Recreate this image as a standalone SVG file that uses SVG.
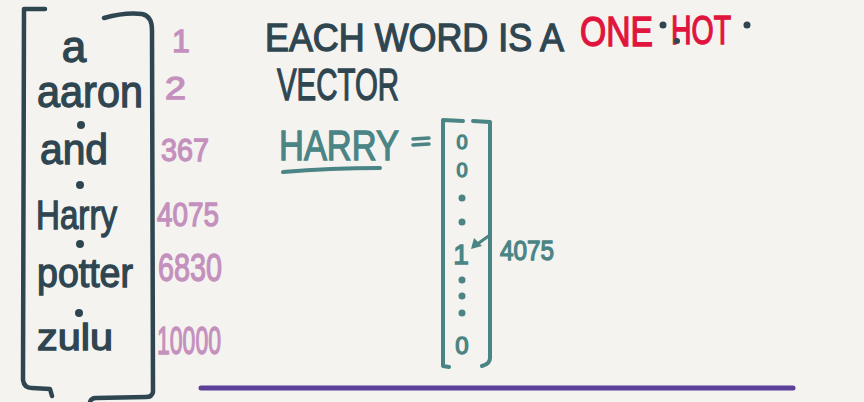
<svg xmlns="http://www.w3.org/2000/svg" width="864" height="402" viewBox="0 0 864 402">
<style>
.dk{fill:#2f4651;stroke:#2f4651;stroke-width:1.3;font-family:"Liberation Sans",Arial,sans-serif}
.pk{fill:#c490bd;stroke:#c490bd;stroke-width:1.3;font-family:"Liberation Sans",Arial,sans-serif}
.rd{fill:#e0143c;stroke:#e0143c;stroke-width:1.4;font-family:"Liberation Sans",Arial,sans-serif}
.tl{fill:#4a8484;stroke:#4a8484;stroke-width:1.3;font-family:"Liberation Sans",Arial,sans-serif}
.br{fill:none;stroke-linecap:round;stroke-linejoin:round}
</style>
<rect width="864" height="402" fill="#f4f3f0"/>
<g id="vocab">
<path class="br" stroke="#2f4651" stroke-width="4.5" d="M45,9 L24,9 L23,380 Q24,388 32,388 L50,389 L52,396"/>
<path class="br" stroke="#2f4651" stroke-width="4.5" d="M104,18 Q125,12 142,14 Q152,16 152,30 L153,392 Q152,397 146,397 L96,398 Q91,398 90,402"/>
<text class="dk" x="74" y="62" font-size="44" text-anchor="middle">a</text>
<text class="dk" x="37" y="107" font-size="44" textLength="106" lengthAdjust="spacingAndGlyphs">aaron</text>
<circle cx="81" cy="125" r="4" fill="#2f4651"/>
<text class="dk" x="40" y="164" font-size="42" textLength="68" lengthAdjust="spacingAndGlyphs">and</text>
<circle cx="80" cy="185" r="4" fill="#2f4651"/>
<text class="dk" x="36" y="229" font-size="40" textLength="81" lengthAdjust="spacingAndGlyphs">Harry</text>
<circle cx="80" cy="244" r="4" fill="#2f4651"/>
<text class="dk" x="37" y="287" font-size="40" textLength="96" lengthAdjust="spacingAndGlyphs">potter</text>
<circle cx="79" cy="313" r="4" fill="#2f4651"/>
<text class="dk" x="37" y="350" font-size="36" textLength="76" lengthAdjust="spacingAndGlyphs">zulu</text>
</g>
<g id="indices">
<text class="pk" x="172" y="52" font-size="32">1</text>
<text class="pk" x="165" y="99" font-size="32" textLength="21" lengthAdjust="spacingAndGlyphs">2</text>
<text class="pk" x="161" y="161" font-size="32" textLength="48" lengthAdjust="spacingAndGlyphs">367</text>
<text class="pk" x="157" y="226" font-size="34" textLength="62" lengthAdjust="spacingAndGlyphs">4075</text>
<text class="pk" x="158" y="281" font-size="38" textLength="64" lengthAdjust="spacingAndGlyphs">6830</text>
<text class="pk" x="157" y="354" font-size="38" textLength="64" lengthAdjust="spacingAndGlyphs">10000</text>
</g>
<g id="title">
<text class="dk" x="265" y="51" font-size="38" textLength="299" lengthAdjust="spacingAndGlyphs">EACH WORD IS A</text>
<text class="rd" x="580" y="46" font-size="42" textLength="73" lengthAdjust="spacingAndGlyphs">ONE</text>
<circle cx="663" cy="25" r="3.5" fill="#2f4651"/>
<text class="rd" x="671" y="44" font-size="40" textLength="60" lengthAdjust="spacingAndGlyphs">HOT</text>
<circle cx="677" cy="41" r="3" fill="#2f4651"/>
<circle cx="747" cy="25" r="3.5" fill="#2f4651"/>
<text class="dk" x="277" y="100" font-size="44" textLength="122" lengthAdjust="spacingAndGlyphs">VECTOR</text>
</g>
<g id="harry-vector">
<text class="tl" x="279" y="160" font-size="42" textLength="120" lengthAdjust="spacingAndGlyphs">HARRY</text>
<path class="br" stroke="#4a8484" stroke-width="4" d="M283,172 Q330,168 380,168"/>
<path class="br" stroke="#4a8484" stroke-width="3.5" d="M413,139 L429,138 M413,145 L429,144"/>
<path class="br" stroke="#4a8484" stroke-width="4" d="M463,121 L443,120 L443,366 L449,367"/>
<path class="br" stroke="#4a8484" stroke-width="4" d="M473,121 L490,122 L490,358 Q490,364 482,366"/>
<text class="tl" x="462" y="149" font-size="20" text-anchor="middle">0</text>
<text class="tl" x="462" y="177" font-size="20" text-anchor="middle">0</text>
<circle cx="462" cy="198" r="3.5" fill="#4a8484"/>
<circle cx="462" cy="222" r="3.5" fill="#4a8484"/>
<text class="tl" x="461" y="264" font-size="28" text-anchor="middle">1</text>
<circle cx="462" cy="280" r="3.5" fill="#4a8484"/>
<circle cx="462" cy="296" r="3.5" fill="#4a8484"/>
<circle cx="462" cy="313" r="3.5" fill="#4a8484"/>
<text class="tl" x="462" y="354" font-size="24" text-anchor="middle">0</text>
</g>
<g id="connectors">
<path class="br" stroke="#4a8484" stroke-width="3" d="M490,235 L476,245"/>
<path fill="#4a8484" d="M471,249 L474,238 L482,246 Z"/>
</g>
<text class="tl" x="500" y="260" font-size="28" textLength="54" lengthAdjust="spacingAndGlyphs">4075</text>
<path class="br" stroke="#5b3f99" stroke-width="5" d="M201,388 L793,388"/>
</svg>
